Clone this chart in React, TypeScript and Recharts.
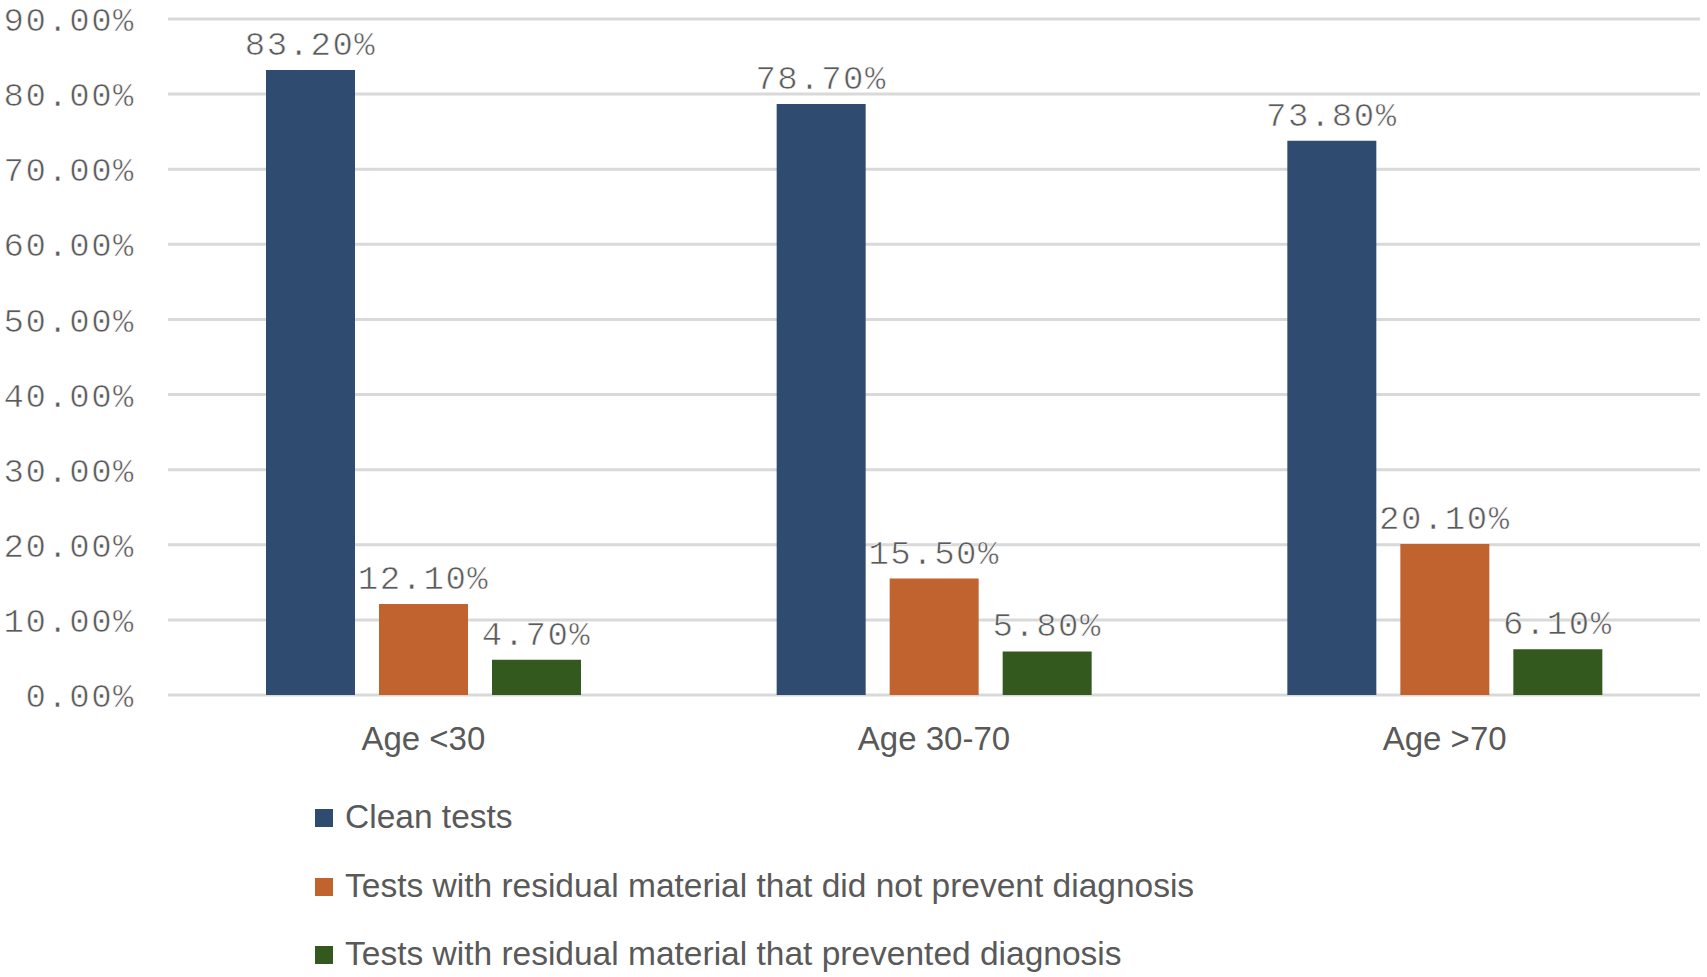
import React from "react";
import { BarChart, Bar, XAxis, YAxis, CartesianGrid, Legend, LabelList } from "recharts";

const categories = ["Age <30", "Age 30-70", "Age >70"];
const cleanTests = [83.2, 78.7, 73.8];
const residualNotPrevent = [12.1, 15.5, 20.1];
const residualPrevent = [4.7, 5.8, 6.1];
const yTicks = [0, 10, 20, 30, 40, 50, 60, 70, 80, 90];

const seriesNames = [
  "Clean tests",
  "Tests with residual material that did not prevent diagnosis",
  "Tests with residual material that prevented diagnosis",
];
const colors = ["#2F4B6F", "#C0632F", "#33591F"];

const data = categories.map((c, i) => ({
  name: c,
  clean: cleanTests[i],
  notPrevent: residualNotPrevent[i],
  prevent: residualPrevent[i],
}));

const pct = (v: any) => `${Number(v).toFixed(2)}%`;

const monoFont = "'Liberation Mono', 'DejaVu Sans Mono', monospace";
const sansFont = "'Liberation Sans', Arial, sans-serif";

const LegendContent = (props: any) => {
  const payload = props.payload || [];
  return (
    <div>
      {payload.map((p: any, i: number) => (
        <div key={i} style={{ position: "relative", height: 68.5 }}>
          <div
            style={{
              position: "absolute",
              left: 0,
              top: 26,
              width: 18,
              height: 18,
              background: p.color,
            }}
          />
          <span
            style={{
              position: "absolute",
              left: 30,
              top: 0,
              lineHeight: "68.5px",
              fontSize: 33.5,
              fontFamily: sansFont,
              color: "#595959",
              whiteSpace: "nowrap",
            }}
          >
            {p.value}
          </span>
        </div>
      ))}
    </div>
  );
};

const monoStyle = {
  fontFamily: monoFont,
  fontSize: 34,
  letterSpacing: 1.5,
  fill: "#5a5a5a",
  stroke: "#ffffff",
  strokeWidth: 0.6,
};

export default function App() {
  return (
    <div style={{ position: "absolute", left: 0, top: 0, width: 1707, height: 977, background: "#fff" }}>
      <BarChart
        width={1707}
        height={977}
        data={data}
        margin={{ top: 19, right: 7, left: 0, bottom: 222 }}
        barCategoryGap={98}
        barGap={24}
      >
        <CartesianGrid vertical={false} stroke="#D9D9D9" strokeWidth={3} />
        <XAxis
          dataKey="name"
          axisLine={false}
          tickLine={false}
          tickSize={0}
          tickMargin={32}
          height={60}
          tick={{ fontFamily: sansFont, fontSize: 33, fill: "#595959" }}
        />
        <YAxis
          domain={[0, 90]}
          ticks={yTicks}
          axisLine={false}
          tickLine={false}
          tickSize={0}
          tickMargin={33}
          width={168}
          tickFormatter={pct}
          tick={monoStyle}
        />
        <Legend
          layout="vertical"
          align="center"
          verticalAlign="middle"
          content={<LegendContent />}
          wrapperStyle={{ left: 315, top: 783, width: 1000 }}
        />
        <Bar dataKey="clean" name={seriesNames[0]} fill={colors[0]} isAnimationActive={false}>
          <LabelList dataKey="clean" position="top" offset={15} formatter={pct} style={monoStyle} />
        </Bar>
        <Bar dataKey="notPrevent" name={seriesNames[1]} fill={colors[1]} isAnimationActive={false}>
          <LabelList dataKey="notPrevent" position="top" offset={15} formatter={pct} style={monoStyle} />
        </Bar>
        <Bar dataKey="prevent" name={seriesNames[2]} fill={colors[2]} isAnimationActive={false}>
          <LabelList dataKey="prevent" position="top" offset={15} formatter={pct} style={monoStyle} />
        </Bar>
      </BarChart>
    </div>
  );
}
